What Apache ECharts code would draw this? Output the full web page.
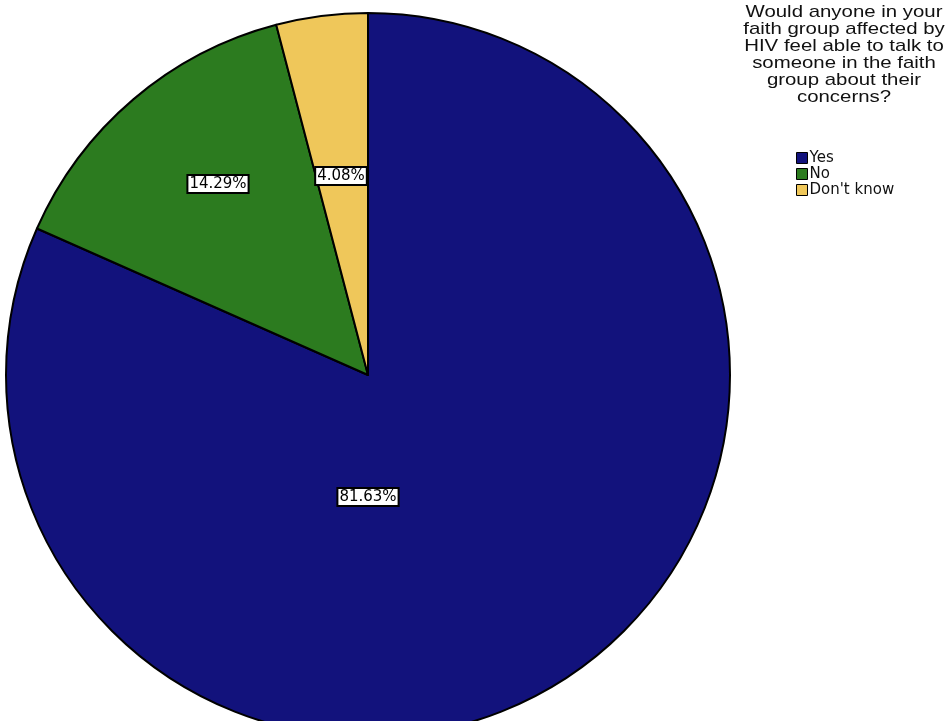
<!DOCTYPE html>
<html>
<head>
<meta charset="utf-8">
<script src="https://cdn.jsdelivr.net/npm/echarts@6/dist/echarts.min.js"></script>
<style>
html,body{margin:0;padding:0;background:#fff;}
#chart{width:951px;height:721px;}
</style>
</head>
<body>
<div id="chart"></div>
<script>
const categories = ["Yes", "No", "Don't know"];
const percents = [81.63, 14.29, 4.08];
const colors = ['#12127c', '#2c7b1f', '#efc75a'];
const titleText = "Would anyone in your\nfaith group affected by\nHIV feel able to talk to\nsomeone in the faith\ngroup about their\nconcerns?";

// label anchor positions (px) as placed in the reference
const labelCenters = [[368, 497], [218, 184], [341, 176]];

const chart = echarts.init(document.getElementById('chart'));
chart.setOption({
  animation: false,
  graphic: [{
    type: 'text',
    x: 844,
    y: 4,
    scaleX: 1.2,
    style: {
      text: titleText,
      font: '17px "Liberation Sans", Arial, sans-serif',
      fill: '#111',
      align: 'center',
      textAlign: 'center',
      lineHeight: 17
    }
  }],
  legend: {
    orient: 'vertical',
    left: 791,
    top: 145,
    itemWidth: 11,
    itemHeight: 11,
    itemGap: 0,
    icon: 'rect',
    selectedMode: false,
    data: categories,
    itemStyle: { borderColor: '#000', borderWidth: 1 },
    textStyle: {
      fontFamily: 'DejaVu Sans, sans-serif',
      fontSize: 15,
      lineHeight: 16,
      color: '#111',
      padding: [0, 0, 0, -3]
    }
  },
  series: [{
    type: 'pie',
    center: [368, 375],
    radius: [0, 362],
    startAngle: 90,
    clockwise: true,
    avoidLabelOverlap: false,
    itemStyle: { borderColor: '#000', borderWidth: 2 },
    label: {
      show: true,
      position: 'inside',
      formatter: p => p.value.toFixed(2) + '%',
      fontFamily: 'DejaVu Sans, sans-serif',
      fontSize: 15,
      lineHeight: 15,
      color: '#000',
      backgroundColor: '#fff',
      borderColor: '#000',
      borderWidth: 2,
      padding: [1, 1, 0, 1]
    },
    labelLayout: function (params) {
      const c = labelCenters[params.dataIndex];
      return { x: c[0], y: c[1], align: 'center', verticalAlign: 'middle' };
    },
    labelLine: { show: false },
    emphasis: { disabled: true },
    data: categories.map((n, i) => ({ name: n, value: percents[i], itemStyle: { color: colors[i] } }))
  }]
});
</script>
</body>
</html>
